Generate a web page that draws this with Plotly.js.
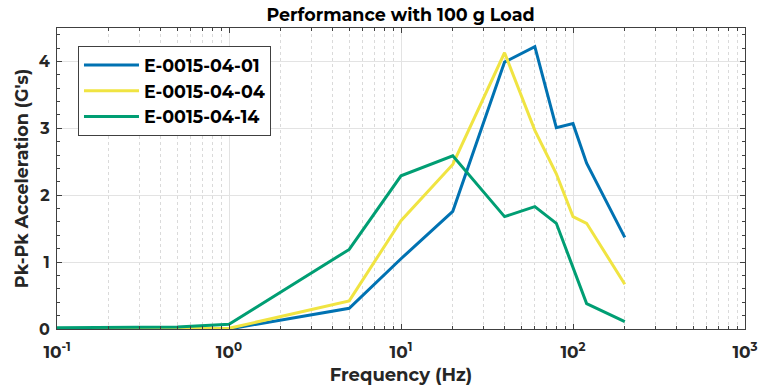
<!DOCTYPE html>
<html><head><meta charset="utf-8">
<script src="https://cdn.plot.ly/plotly-3.0.1.min.js"></script>
<style>html,body{margin:0;padding:0;background:#fff}#chart{width:760px;height:388px}</style>
</head><body><div id="chart"></div>
<script>
const freq = [0.1, 0.5, 1, 5, 10, 20, 40, 60, 80, 100, 120, 200];
const s01 = [0.0, 0.01, 0.0, 0.31, 1.05, 1.76, 3.99, 4.22, 3.01, 3.07, 2.48, 1.37];
const s04 = [0.0, 0.0, 0.01, 0.42, 1.62, 2.46, 4.13, 2.97, 2.32, 1.68, 1.58, 0.67];
const freq14 = [0.1, 0.5, 1, 5, 10, 20, 40, 60, 80, 120, 200];
const s14 = [0.02, 0.03, 0.07, 1.19, 2.29, 2.59, 1.68, 1.83, 1.58, 0.38, 0.11];
const names = ['E-0015-04-01', 'E-0015-04-04', 'E-0015-04-14'];
const xTickVals = [0.1, 1, 10, 100, 1000];
const xTickText = ['10<sup>-1</sup>', '10<sup>0</sup>', '10<sup>1</sup>', '10<sup>2</sup>', '10<sup>3</sup>'];
const yTickVals = [0, 1, 2, 3, 4];
</script>
<script>
const colors = ['#0072B2', '#F0E442', '#009E73'];
const font = 'Montserrat, "DejaVu Sans", sans-serif';
const traces = [
  {x: freq, y: s01, name: names[0]},
  {x: freq, y: s04, name: names[1]},
  {x: freq14, y: s14, name: names[2]}
].map((t, i) => Object.assign(t, {type: 'scatter', mode: 'lines', line: {color: colors[i], width: 3}}));
const axisCommon = {
  showline: true, linecolor: '#404040', linewidth: 1, mirror: 'ticks',
  ticks: 'inside', ticklen: 5, tickcolor: '#404040', zeroline: false,
  gridcolor: '#e3e3e3', gridwidth: 1, automargin: false,
  tickfont: {family: font, size: 17, color: '#262626', weight: 700}
};
const layout = {
  width: 760, height: 388,
  margin: {l: 57, r: 15, t: 28, b: 59},
  paper_bgcolor: '#fff', plot_bgcolor: '#fff',
  title: {text: 'Performance with 100 g Load', x: 0.527, xanchor: 'center', y: 0.978, yanchor: 'top',
          font: {family: font, size: 17.5, color: '#000', weight: 700}},
  xaxis: Object.assign({}, axisCommon, {
    type: 'log', range: [-1, 3], tickmode: 'array', tickvals: xTickVals, ticktext: xTickText,
    ticklabelstandoff: 8,
    minor: {dtick: 'D1', ticks: 'inside', ticklen: 3, tickcolor: '#404040', showgrid: true, gridcolor: '#dadada', griddash: 'dot', gridwidth: 1},
    title: {text: 'Frequency (Hz)', standoff: 6, font: {family: font, size: 18, color: '#262626', weight: 700}}
  }),
  yaxis: Object.assign({}, axisCommon, {
    range: [0, 4.5], tickmode: 'array', tickvals: yTickVals,
    tickfont: {family: font, size: 16, color: '#262626', weight: 700},
    ticklabelstandoff: 3,
    minor: {dtick: 0.2, ticks: 'inside', ticklen: 3, tickcolor: '#404040', showgrid: false},
    title: {text: "Pk-Pk Acceleration (G's)", standoff: 5, font: {family: font, size: 17.5, color: '#262626', weight: 700}}
  }),
  showlegend: true,
  legend: {x: 0.0305, y: 0.94, xanchor: 'left', yanchor: 'top', bgcolor: '#fff', bordercolor: '#404040', borderwidth: 1,
           font: {family: font, size: 17.5, color: '#000', weight: 700}, tracegroupgap: 0, itemwidth: 55}
};
Plotly.newPlot('chart', traces, layout, {displayModeBar: false, staticPlot: true});
</script>
</body></html>
